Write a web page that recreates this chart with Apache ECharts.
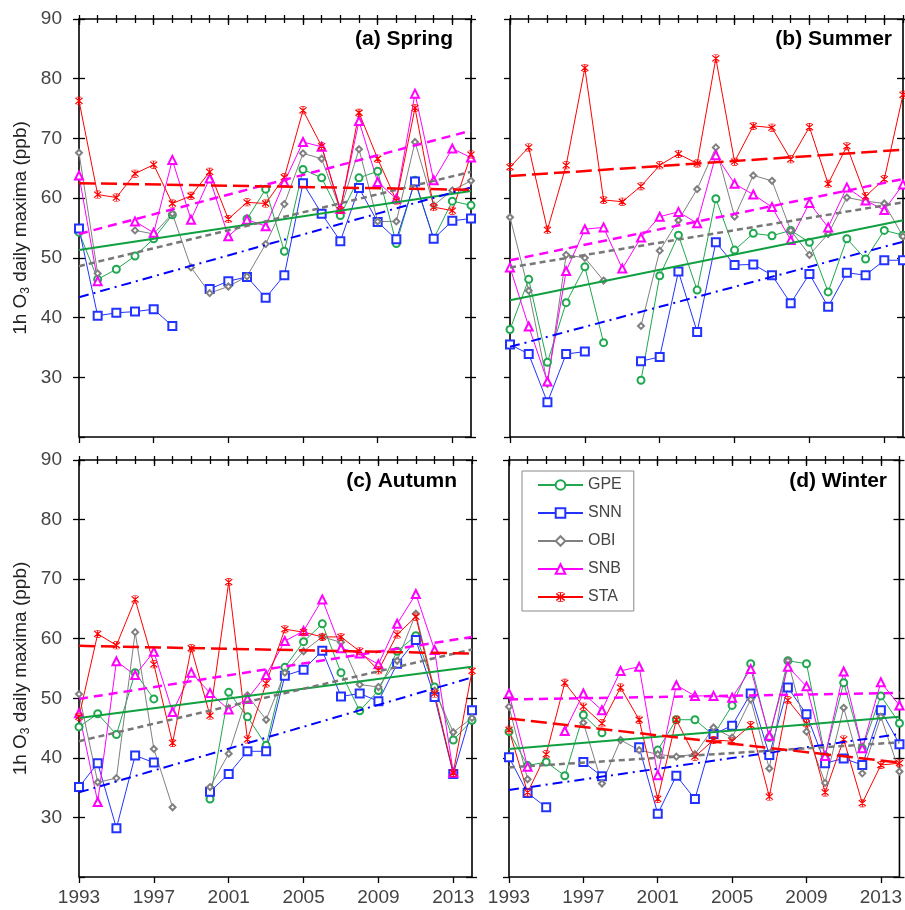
<!DOCTYPE html>
<html><head><meta charset="utf-8">
<script src="https://cdn.jsdelivr.net/npm/echarts@6/dist/echarts.min.js"></script>
<style>html,body{margin:0;padding:0;background:#fff}#c{width:905px;height:910px}</style>
</head><body><div id="c"></div>
<script>
const years = [1993,1994,1995,1996,1997,1998,1999,2000,2001,2002,2003,2004,2005,2006,2007,2008,2009,2010,2011,2012,2013,2014];
const majorYears = [1993,1997,2001,2005,2009,2013];
const stationNames = ['GPE','SNN','OBI','SNB','STA'];
const panelTitles = ['(a) Spring','(b) Summer','(c) Autumn','(d) Winter'];
const yAxisTitle = '1h O{sub|3} daily maxima (ppb)';

// (a) Spring
const gpeSpring = [54.3,46.4,48.1,50.3,53.2,57.2,null,null,null,56.5,61.5,51.1,64.8,63.4,57.1,63.4,64.5,52.4,63.0,53.2,59.5,58.8];
const snnSpring = [54.9,40.3,40.8,41.0,41.4,38.6,null,44.8,46.1,46.8,43.3,47.1,62.5,57.4,52.8,61.7,56.0,53.1,62.8,53.2,56.2,56.6];
const obiSpring = [67.6,47.4,null,54.6,54.0,57.4,48.4,44.1,45.2,46.9,52.3,59.0,67.5,66.6,58.0,68.2,56.1,56.1,69.4,58.8,61.3,62.9];
const snbSpring = [63.8,46.1,null,56.1,54.2,66.4,56.4,63.3,53.6,56.4,55.3,62.7,69.4,68.6,58.2,72.9,62.7,59.9,77.5,63.0,68.3,66.8];
const staSpring = [76.3,60.6,60.1,64.1,65.6,59.1,60.4,64.4,56.5,59.3,59.1,63.5,74.7,68.7,58.0,74.3,66.6,59.6,75.1,58.5,57.9,67.3];
const trendStartSpring = [51.3,43.4,48.6,54.0,62.5];
const trendEndSpring   = [61.2,61.8,64.4,71.3,61.4];

// (b) Summer
const gpeSummer = [38.0,46.4,32.5,42.5,48.5,35.8,null,29.5,47.0,53.8,44.6,59.9,51.3,54.1,53.7,54.6,52.6,44.3,53.2,49.8,54.6,53.8];
const snnSummer = [35.5,33.9,25.8,33.9,34.3,null,null,32.7,33.4,47.7,37.6,52.6,48.8,48.9,47.1,42.4,47.3,41.8,47.5,47.1,49.6,49.6];
const obiSummer = [56.8,44.5,28.9,50.5,50.0,46.2,null,38.6,51.2,56.3,61.5,68.5,56.9,63.8,62.9,54.6,50.5,54.0,60.1,59.5,59.1,53.6];
const snbSummer = [48.4,38.5,29.3,47.8,54.8,55.1,48.2,53.4,56.9,57.7,55.8,67.2,62.4,60.6,58.5,53.0,59.2,55.1,61.8,59.6,58.0,62.3];
const staSummer = [65.2,68.5,54.7,65.5,81.8,59.7,59.4,62.0,65.5,67.4,65.8,83.4,66.1,72.1,71.8,66.5,71.9,62.4,68.7,60.3,63.2,77.3];
const trendStartSummer = [42.9,35.1,48.4,49.6,63.7];
const trendEndSummer   = [56.3,52.7,59.3,63.2,68.1];

// (c) Autumn
const gpeAutumn = [45.2,47.4,43.9,54.3,49.9,null,null,33.1,51.0,46.9,42.1,55.2,59.5,62.5,54.3,47.9,51.3,57.9,60.5,51.9,43.0,46.3];
const snnAutumn = [35.1,39.1,28.2,40.4,39.2,null,null,34.3,37.3,41.1,41.1,53.8,54.8,58.0,50.3,50.8,49.5,55.8,59.8,50.2,37.3,48.0];
const obiAutumn = [50.7,35.9,36.6,61.1,41.5,31.7,null,35.1,40.7,50.5,46.4,54.3,57.9,60.3,59.4,52.3,51.9,56.3,64.2,51.3,44.3,46.7];
const snbAutumn = [47.5,32.6,56.2,53.9,57.8,47.7,54.3,50.9,48.1,49.9,53.9,59.6,61.3,66.6,58.4,57.5,55.7,62.5,67.5,58.1,37.5,null];
const staAutumn = [46.9,60.8,58.9,66.6,55.7,42.5,58.4,47.1,69.5,43.1,52.5,61.6,61.1,60.3,60.3,57.9,54.7,60.7,63.7,50.8,37.5,54.6];
const trendStartAutumn = [46.7,34.2,42.8,49.9,58.8];
const trendEndAutumn   = [55.3,53.5,58.2,60.3,57.5];

// (d) Winter
const gpeWinter = [44.4,38.7,39.3,37.0,47.2,44.2,null,null,41.3,46.4,46.4,43.8,48.8,55.8,43.4,56.3,55.8,40.3,52.6,41.6,50.4,45.8];
const snnWinter = [40.1,34.1,31.7,null,39.3,36.9,null,41.8,30.6,37.0,33.1,44.0,45.4,50.8,40.5,51.8,47.3,39.1,39.9,38.8,48.0,42.3];
const obiWinter = [48.6,36.4,null,null,45.9,35.7,43.0,41.3,40.6,40.2,40.6,45.1,43.4,49.8,38.2,56.3,44.4,35.8,48.4,37.4,46.9,37.7];
const snbWinter = [50.8,38.5,null,44.5,50.8,48.0,54.6,55.3,37.1,52.2,50.4,50.4,50.1,54.9,43.7,55.3,52.0,40.3,54.5,41.6,52.7,48.8];
const staWinter = [44.7,34.2,40.6,52.6,48.6,45.8,51.8,46.4,33.1,46.4,40.2,43.0,42.8,45.5,33.5,49.7,45.8,34.2,43.1,32.4,38.8,39.1];
const trendStartWinter = [41.5,34.6,38.4,49.8,46.6];
const trendEndWinter   = [46.9,44.0,42.6,50.9,39.2];

const panels = [
  {data:[gpeSpring,snnSpring,obiSpring,snbSpring,staSpring], t0:trendStartSpring, t1:trendEndSpring},
  {data:[gpeSummer,snnSummer,obiSummer,snbSummer,staSummer], t0:trendStartSummer, t1:trendEndSummer},
  {data:[gpeAutumn,snnAutumn,obiAutumn,snbAutumn,staAutumn], t0:trendStartAutumn, t1:trendEndAutumn},
  {data:[gpeWinter,snnWinter,obiWinter,snbWinter,staWinter], t0:trendStartWinter, t1:trendEndWinter}
];

const FONT = 'Liberation Sans, Arial, sans-serif';
const colors = ['#1fa84f','#2233ff','#808080','#ff00ff','#ff0000'];
const trendColors = ['#10a040','#0000ff','#777777','#ff00ff','#ff0000'];
const asterisk = 'path://M9,0L11,0L11,20L9,20Z M1.5,3.5L3.5,1.5L18.5,16.5L16.5,18.5Z M16.5,1.5L18.5,3.5L3.5,18.5L1.5,16.5Z M5,0L15,0L15,1.6L5,1.6Z M5,18.4L15,18.4L15,20L5,20Z';
const symbols = ['emptyCircle','emptyRect','emptyDiamond','emptyTriangle',asterisk];
const symbolSizes = [7,8,6,8,8];
const trendTypes = ['solid',[10,5,2,5],[6,4],[9,6],[16,6]];
const trendWidths = [2,2,2.5,2.5,2.5];

const grids = [
  {left:79, top:19, width:392, height:418},
  {left:510, top:19, width:393, height:418},
  {left:79, top:460, width:393, height:417},
  {left:509, top:460, width:394, height:417}
].map(g => Object.assign(g, {show:true, borderColor:'#000', borderWidth:1.6, backgroundColor:'transparent'}));

const tickStyle = {color:'#000', width:1.3};
const plain = v => String(Math.round(v));
const xAxis = [], yAxis = [];
for (let g = 0; g < 4; g++) {
  const showX = g >= 2, showY = (g % 2 === 0);
  const xb = {type:'value', gridIndex:g, min:1993, max:2014, axisLine:{show:false}, splitLine:{show:false}};
  xAxis.push(Object.assign({}, xb, {
    axisTick:{show:true, customValues:majorYears, length:6, inside:false, lineStyle:tickStyle},
    axisLabel:{show:showX, customValues:majorYears, formatter:plain, margin:11, fontSize:19, color:'#444', fontFamily:FONT}
  }));
  xAxis.push(Object.assign({}, xb, {
    axisTick:{show:true, customValues:majorYears, length:6, inside:true, lineStyle:tickStyle},
    axisLabel:{show:false}
  }));
  xAxis.push(Object.assign({}, xb, {
    axisTick:{show:true, customValues:years, length:4, inside:false, lineStyle:tickStyle},
    axisLabel:{show:false}
  }));
  xAxis.push(Object.assign({}, xb, {
    axisTick:{show:true, customValues:years, length:4, inside:true, lineStyle:tickStyle},
    axisLabel:{show:false}
  }));
  const yb = {type:'value', gridIndex:g, min:20, max:90, interval:10, axisLine:{show:false}, splitLine:{show:false}};
  yAxis.push(Object.assign({}, yb, {
    position:'left',
    axisTick:{show:true, length:6, inside:false, lineStyle:tickStyle},
    axisLabel:{show:showY, showMinLabel:false, formatter:plain, margin:17, fontSize:19, color:'#444', fontFamily:FONT},
    name: showY ? yAxisTitle : '',
    nameLocation:'middle', nameGap:47, nameRotate:90,
    nameTextStyle:{fontSize:19, color:'#222', fontFamily:FONT, lineHeight:22,
      rich:{sub:{fontSize:12, lineHeight:22, verticalAlign:'bottom', fontFamily:FONT, color:'#222'}}}
  }));
  yAxis.push(Object.assign({}, yb, {
    position:'left',
    axisTick:{show:showY, length:6, inside:true, lineStyle:tickStyle},
    axisLabel:{show:false}
  }));
  yAxis.push(Object.assign({}, yb, {
    position:'right',
    axisTick:{show:true, length:6, inside:true, lineStyle:tickStyle},
    axisLabel:{show:false}
  }));
  yAxis.push(Object.assign({}, yb, {
    position:'right',
    axisTick:{show:true, length:5, inside:false, lineStyle:tickStyle},
    axisLabel:{show:false}
  }));
}

const series = [];
panels.forEach((p, g) => {
  stationNames.forEach((n, i) => {
    series.push({
      name:n, type:'line', xAxisIndex:g*4, yAxisIndex:g*4,
      data: years.map((yr, k) => [yr, p.data[i][k] == null ? '-' : p.data[i][k]]),
      symbol:symbols[i], symbolSize:symbolSizes[i], showAllSymbol:true, connectNulls:false,
      lineStyle:{color:colors[i], width:1},
      itemStyle:{color:colors[i], borderWidth:1},
      z:2
    });
  });
  stationNames.forEach((n, i) => {
    series.push({
      name:n + ' trend', type:'line', xAxisIndex:g*4, yAxisIndex:g*4,
      data:[[years[0], p.t0[i]], [years[years.length-1], p.t1[i]]],
      showSymbol:false, symbol:'none',
      lineStyle:{color:trendColors[i], width:trendWidths[i], type:trendTypes[i]},
      z:3
    });
  });
});

const titlePos = [{right:452, top:29},{right:13, top:29},{right:448, top:471},{right:18, top:471}];
const title = panelTitles.map((t, i) => Object.assign({
  text:t, textStyle:{fontSize:21, fontWeight:'bold', color:'#000', fontFamily:FONT}, padding:0
}, titlePos[i]));

const chart = echarts.init(document.getElementById('c'), null, {renderer:'canvas'});
chart.setOption({
  animation:false,
  backgroundColor:'#fff',
  title,
  grid:grids, xAxis, yAxis, series,
  legend:{
    data:stationNames, orient:'vertical', left:522, top:471,
    itemWidth:45, itemHeight:12, itemGap:12,
    padding:[6,12,6,15],
    borderColor:'#888', borderWidth:1, backgroundColor:'#fff',
    textStyle:{fontSize:16, color:'#444', fontFamily:FONT, lineHeight:12},
    selectedMode:false
  }
});
</script></body></html>
